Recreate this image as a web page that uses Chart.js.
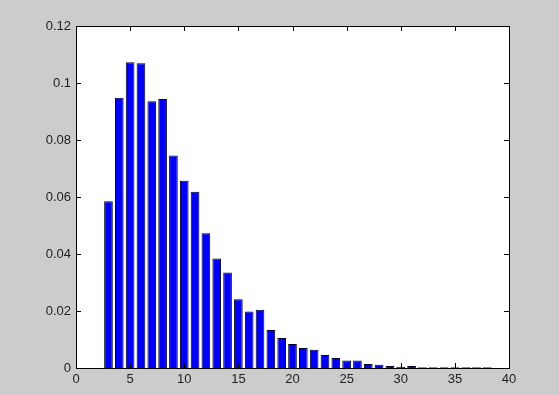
<!DOCTYPE html>
<html>
<head>
<meta charset="utf-8">
<script src="https://cdn.jsdelivr.net/npm/chart.js@4.4.1/dist/chart.umd.min.js"></script>
<style>
html,body{margin:0;padding:0;background:#cccccc;}
#wrap{position:relative;width:559px;height:395px;}
</style>
</head>
<body>
<div id="wrap"><canvas id="c" width="559" height="395"></canvas></div>
<script>
const categories = [3,4,5,6,7,8,9,10,11,12,13,14,15,16,17,18,19,20,21,22,23,24,25,26,27,28,29,30,31,32,33,34,35,36,37,38];
const values = [0.0585,0.0948,0.1073,0.1069,0.0936,0.0944,0.0746,0.0657,0.0618,0.0473,0.0384,0.0335,0.0241,0.0198,0.0204,0.0133,0.0105,0.0084,0.0070,0.0064,0.0046,0.0035,0.0026,0.0026,0.0014,0.0011,0.0007,0.0004,0.0007,0.0003,0.0003,0.0003,0.0003,0.0003,0.0003,0.0003];
const xTicks = [0,5,10,15,20,25,30,35,40];
const yTicks = [0,0.02,0.04,0.06,0.08,0.1,0.12];

const boxPlugin = {
  id:'box',
  afterDraw(chart){
    const {ctx, chartArea:a, scales:{x,y}} = chart;
    ctx.save();
    ctx.strokeStyle='#000';
    ctx.lineWidth=1;
    ctx.strokeRect(Math.round(a.left)+0.5, Math.round(a.top)+0.5, Math.round(a.right-a.left), Math.round(a.bottom-a.top));
    const L=5;
    ctx.beginPath();
    xTicks.forEach(v=>{
      const px=Math.round(x.getPixelForValue(v))+0.5;
      ctx.moveTo(px,a.bottom); ctx.lineTo(px,a.bottom-L);
      ctx.moveTo(px,a.top); ctx.lineTo(px,a.top+L);
    });
    yTicks.forEach(v=>{
      const py=Math.round(y.getPixelForValue(v))+0.5;
      ctx.moveTo(a.left,py); ctx.lineTo(a.left+L,py);
      ctx.moveTo(a.right,py); ctx.lineTo(a.right-L,py);
    });
    ctx.stroke();
    ctx.restore();
  }
};

new Chart(document.getElementById('c'),{
  type:'bar',
  data:{
    datasets:[{
      data:categories.map((c,i)=>({x:c,y:values[i]})),
      backgroundColor:'#0000f5',
      borderColor:'#00002a',
      borderWidth:1,
      barPercentage:0.8,
      categoryPercentage:1.0
    }]
  },
  options:{
    responsive:false,
    animation:false,
    devicePixelRatio:1,
    layout:{padding:{left:0,right:50,top:26,bottom:0}},
    plugins:{legend:{display:false},tooltip:{enabled:false},title:{display:false}},
    scales:{
      x:{
        type:'linear',min:0,max:40,offset:false,
        afterBuildTicks(s){s.ticks=xTicks.map(v=>({value:v}));},
        afterFit(s){s.height=27;},
        grid:{display:false,drawTicks:false},
        border:{display:false},
        ticks:{color:'#222',font:{family:'Liberation Sans, Arial',size:13},padding:4,maxRotation:0,autoSkip:false}
      },
      y:{
        min:0,max:0.12,
        afterBuildTicks(s){s.ticks=yTicks.map(v=>({value:v}));},
        afterFit(s){s.width=76;},
        grid:{display:false,drawTicks:false},
        border:{display:false},
        ticks:{color:'#222',font:{family:'Liberation Sans, Arial',size:13},padding:5,
          callback:v=>String(Number(v.toFixed(2)))}
      }
    }
  },
  plugins:[{id:'bg',beforeDraw(chart){const {ctx,chartArea:a}=chart;ctx.save();ctx.fillStyle='#ffffff';ctx.fillRect(a.left,a.top,a.right-a.left,a.bottom-a.top);ctx.restore();}},boxPlugin]
});
</script>
</body>
</html>
